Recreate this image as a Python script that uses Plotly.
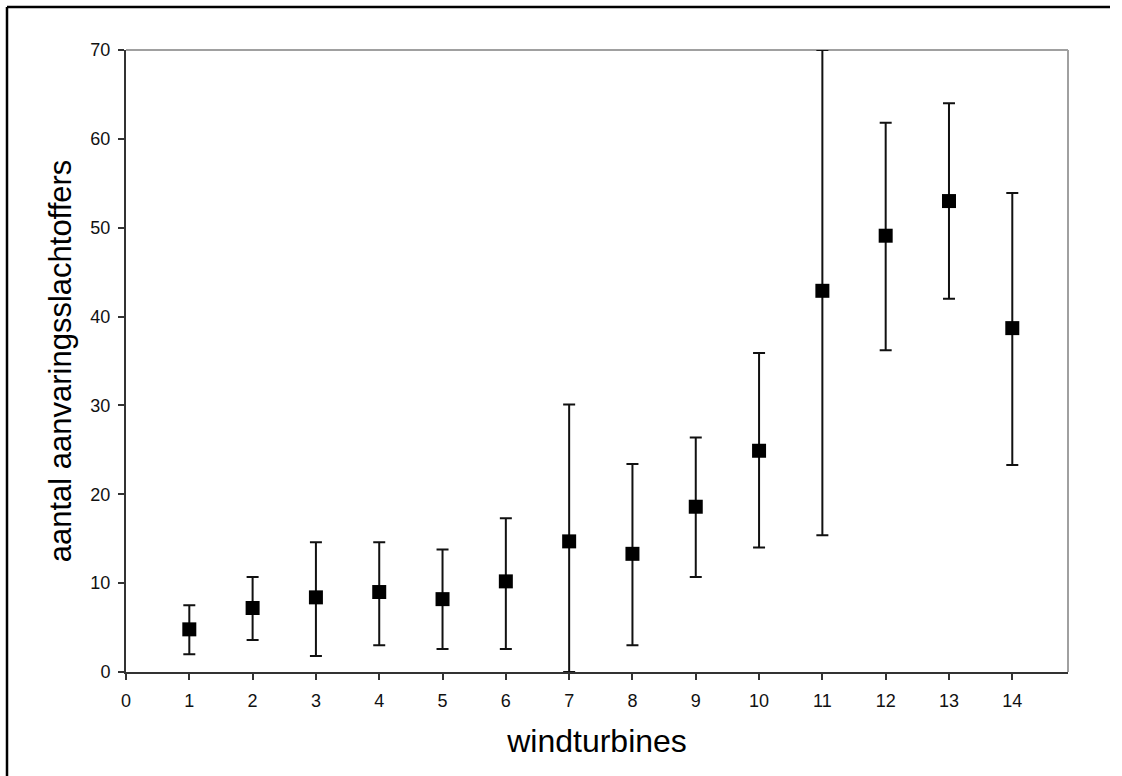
import plotly.graph_objects as go

turbines = list(range(1, 15))
mean_val = [4.8, 7.2, 8.4, 9.0, 8.2, 10.2, 14.7, 13.3, 18.6, 24.9, 42.9, 49.1, 53.0, 38.7]
upper_val = [7.5, 10.7, 14.6, 14.6, 13.8, 17.3, 30.1, 23.4, 26.4, 35.9, 70.0, 61.8, 64.0, 53.9]
lower_val = [2.0, 3.6, 1.8, 3.0, 2.6, 2.6, 0.0, 3.0, 10.7, 14.0, 15.4, 36.2, 42.0, 23.3]
x_ticks = list(range(0, 15))
y_ticks = list(range(0, 71, 10))

err_plus = [u - m for u, m in zip(upper_val, mean_val)]
err_minus = [m - l for m, l in zip(mean_val, lower_val)]

FONT = "Liberation Sans, Arial, sans-serif"

fig = go.Figure()
fig.add_trace(go.Scatter(
    x=turbines, y=mean_val, mode="markers",
    marker=dict(symbol="square", size=14, color="#000000"),
    error_y=dict(type="data", symmetric=False, array=err_plus, arrayminus=err_minus,
                 color="#111111", thickness=2, width=6),
    cliponaxis=False, showlegend=False,
))

# outer frame edges in paper units (plot area spans 126..1068 px, 50..672 px)
fx0 = (7 - 126) / 942
fx1 = (1110 - 126) / 942
fy0 = (672 - 776) / 622
fy1 = (672 - 7) / 622

fig.update_layout(
    width=1122, height=776,
    margin=dict(l=126, r=54, t=50, b=104, autoexpand=False),
    paper_bgcolor="white", plot_bgcolor="white",
    font=dict(family=FONT, color="#000000"),
    xaxis=dict(
        range=[0, 14.88], tickmode="array", tickvals=x_ticks, ticktext=[str(v) for v in x_ticks],
        showgrid=False, zeroline=False, showline=True, linecolor="#333333", linewidth=2,
        ticks="outside", ticklen=6, tickwidth=2, tickcolor="#333333",
        ticklabelstandoff=5,
        tickfont=dict(size=18, family=FONT, color="#111111"),
        title=dict(text="windturbines", font=dict(size=32, family=FONT, color="#000000"), standoff=20),
        automargin=False,
    ),
    yaxis=dict(
        range=[0, 70], tickmode="array", tickvals=y_ticks, ticktext=[str(v) for v in y_ticks],
        showgrid=False, zeroline=False, showline=True, linecolor="#333333", linewidth=2,
        ticks="outside", ticklen=6, tickwidth=2, tickcolor="#333333",
        ticklabelstandoff=4,
        tickfont=dict(size=18, family=FONT, color="#111111"),
        title=dict(text="aantal aanvaringsslachtoffers", font=dict(size=31, family=FONT, color="#000000"), standoff=10),
        automargin=False,
    ),
    shapes=[
        # light grey top and right borders of plot area
        dict(type="line", xref="x domain", yref="y domain", x0=0, x1=1, y0=1, y1=1,
             line=dict(color="#a0a0a0", width=2), layer="below"),
        dict(type="line", xref="x domain", yref="y domain", x0=1, x1=1, y0=0, y1=1,
             line=dict(color="#a0a0a0", width=2), layer="below"),
        # outer chart frame (only top and left edges are visible)
        dict(type="line", xref="paper", yref="paper", x0=fx0, x1=fx1, y0=fy1, y1=fy1,
             line=dict(color="#000000", width=2.5), layer="below"),
        dict(type="line", xref="paper", yref="paper", x0=fx0, x1=fx0, y0=fy0, y1=fy1,
             line=dict(color="#000000", width=2.5), layer="below"),
    ],
)

fig.write_html("out.html")
